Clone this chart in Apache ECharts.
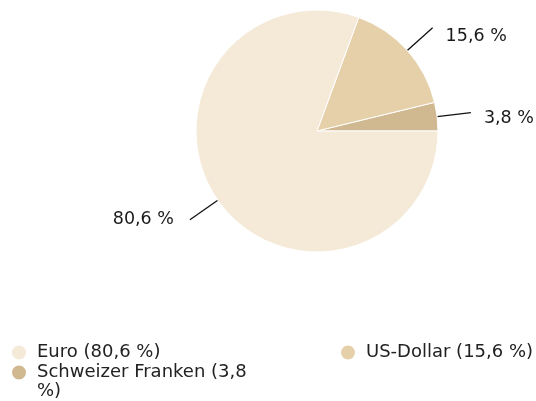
<!DOCTYPE html>
<html>
<head>
<meta charset="utf-8">
<script src="https://cdn.jsdelivr.net/npm/echarts@6/dist/echarts.min.js"></script>
<style>
html, body { margin: 0; padding: 0; background: #fff; }
#chart { width: 536px; height: 401px; }
</style>
</head>
<body>
<div id="chart"></div>
<script>
// data, in drawing order (counterclockwise from 3 o'clock)
var names = ['Schweizer Franken', 'US-Dollar', 'Euro'];
var values = [3.8, 15.6, 80.6];
var colors = ['#d0b890', '#e6d0aa', '#f5e9d8'];

var dom = document.getElementById("chart");
var myChart = echarts.init(dom);

function fmt(v) {
    return String(v).replace('.', ',') + ' %';
}

// small vertical nudges so the labels sit like in the original
var labelNudge = {'Schweizer Franken': 6, 'US-Dollar': 9, 'Euro': 0};

var pieData = names.map(function (n, i) {
    var d = {name: n, value: values[i], itemStyle: {color: colors[i]}};
    if (n === 'Euro') {
        d.label = {distanceToLabelLine: 16};
    }
    return d;
});

var FONT = 'DejaVu Sans';

// one legend per item, so the wrapped one keeps its icon on the first line
function legendFor(name, left, top, wrap) {
    return {
        orient: 'vertical',
        left: left,
        top: top,
        itemWidth: 16,
        itemHeight: 16,
        icon: 'circle',
        data: [name],
        textStyle: {fontFamily: FONT, fontSize: 18, color: '#222', lineHeight: 19, padding: [0, 0, 0, 5]},
        formatter: function (n) {
            var v = String(values[names.indexOf(n)]).replace('.', ',');
            return wrap ? ' \n' + n + ' (' + v + '\n%)' : n + ' (' + v + ' %)';
        }
    };
}

var option = {
    animation: false,
    legend: [
        legendFor('Euro', 5, 338, false),
        legendFor('Schweizer Franken', 5, 339, true),
        legendFor('US-Dollar', 334, 338, false)
    ],
    series: [
        {
            type: 'pie',
            center: [317, 131],
            radius: 121,
            startAngle: 0,
            clockwise: false,
            avoidLabelOverlap: false,
            data: pieData,
            itemStyle: {borderColor: '#fff', borderWidth: 1},
            label: {
                formatter: function (p) { return fmt(p.value); },
                fontFamily: FONT,
                fontSize: 17.5,
                color: '#1a1a1a',
                distanceToLabelLine: 13
            },
            labelLayout: function (params) {
                var n = names[params.dataIndex];
                return {dy: labelNudge[n]};
            },
            labelLine: {
                length: 34,
                length2: 0,
                lineStyle: {color: '#111', width: 1.3}
            },
            emphasis: {disabled: true}
        }
    ]
};

myChart.setOption(option, true);
</script>
</body>
</html>
